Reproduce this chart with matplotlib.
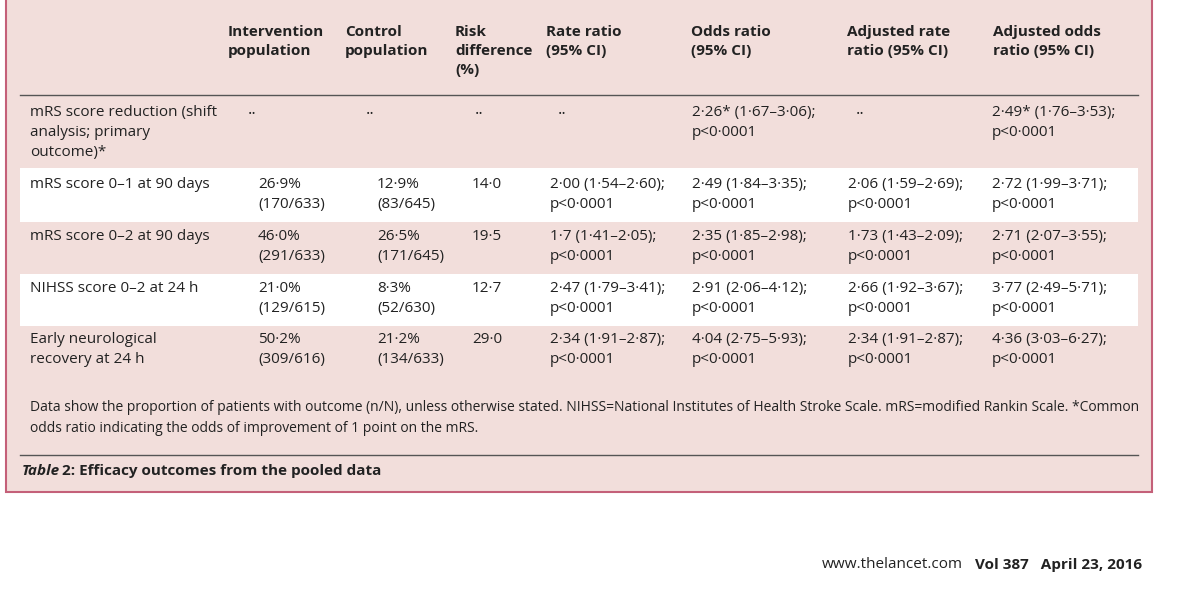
import matplotlib.pyplot as plt
from matplotlib.patches import Rectangle

plt.rcParams['font.family'] = ['Open Sans', 'DejaVu Sans']

headers = ["Intervention\npopulation", "Control\npopulation", "Risk\ndifference\n(%)",
           "Rate ratio\n(95% CI)", "Odds ratio\n(95% CI)", "Adjusted rate\nratio (95% CI)",
           "Adjusted odds\nratio (95% CI)"]
header_x = [228, 345, 455, 546, 691, 847, 993]

outcomes = ["mRS score reduction (shift\nanalysis; primary\noutcome)*",
            "mRS score 0–1 at 90 days", "mRS score 0–2 at 90 days",
            "NIHSS score 0–2 at 24 h", "Early neurological\nrecovery at 24 h"]
intervention = ["··", "26·9%\n(170/633)", "46·0%\n(291/633)", "21·0%\n(129/615)", "50·2%\n(309/616)"]
control = ["··", "12·9%\n(83/645)", "26·5%\n(171/645)", "8·3%\n(52/630)", "21·2%\n(134/633)"]
risk_diff = ["··", "14·0", "19·5", "12·7", "29·0"]
rate_ratio = ["··", "2·00 (1·54–2·60);\np<0·0001", "1·7 (1·41–2·05);\np<0·0001",
              "2·47 (1·79–3·41);\np<0·0001", "2·34 (1·91–2·87);\np<0·0001"]
odds_ratio = ["2·26* (1·67–3·06);\np<0·0001", "2·49 (1·84–3·35);\np<0·0001",
              "2·35 (1·85–2·98);\np<0·0001", "2·91 (2·06–4·12);\np<0·0001",
              "4·04 (2·75–5·93);\np<0·0001"]
adj_rate = ["··", "2·06 (1·59–2·69);\np<0·0001", "1·73 (1·43–2·09);\np<0·0001",
            "2·66 (1·92–3·67);\np<0·0001", "2·34 (1·91–2·87);\np<0·0001"]
adj_odds = ["2·49* (1·76–3·53);\np<0·0001", "2·72 (1·99–3·71);\np<0·0001",
            "2·71 (2·07–3·55);\np<0·0001", "3·77 (2·49–5·71);\np<0·0001",
            "4·36 (3·03–6·27);\np<0·0001"]

row_top = [105, 177, 229, 281, 332]
stripes = [(95, 168, '#f2dedb'), (168, 222, 'white'), (222, 274, '#f2dedb'),
           (274, 326, 'white'), (326, 380, '#f2dedb')]
col_x = [30, 258, 377, 472, 550, 692, 848, 992]
dots_x = {1: 248, 2: 366, 3: 475, 4: 558, 6: 856}

PINK = '#f2dedb'
fig = plt.figure(figsize=(12, 5.95), dpi=100)
ax = fig.add_axes([0, 0, 1, 1])
ax.set_xlim(0, 1200)
ax.set_ylim(595, 0)
ax.axis('off')

ax.add_patch(Rectangle((6, -5), 1146, 497, facecolor=PINK, edgecolor='#c46079', lw=1.5))
for y0, y1, c in stripes:
    ax.add_patch(Rectangle((20, y0), 1118, y1 - y0, facecolor=c, edgecolor='none'))
ax.plot([20, 1138], [95, 95], color='#555555', lw=1)
ax.plot([20, 1138], [455, 455], color='#555555', lw=1)

fs = 11
for h, x in zip(headers, header_x):
    ax.text(x, 25, h, fontsize=fs, fontweight='bold', va='top', ha='left', linespacing=1.45, color='#222222')

cols = [outcomes, intervention, control, risk_diff, rate_ratio, odds_ratio, adj_rate, adj_odds]
for i, y in enumerate(row_top):
    for j, col in enumerate(cols):
        val = col[i]
        if val == "··":
            ax.text(dots_x[j], y + 2, val, fontsize=12, va='top', ha='left', color='#222222')
        else:
            ax.text(col_x[j], y, val, fontsize=fs, va='top', ha='left', linespacing=1.45, color='#222222')

ax.text(30, 400, "Data show the proportion of patients with outcome (n/N), unless otherwise stated. "
        "NIHSS=National Institutes of Health Stroke Scale. mRS=modified Rankin Scale. *Common\n"
        "odds ratio indicating the odds of improvement of 1 point on the mRS.",
        fontsize=10, va='top', ha='left', linespacing=1.55, color='#222222')
ax.text(22, 471, "Table", fontsize=11, fontweight='bold', fontstyle='italic', va='center', ha='left', color='#222222')
ax.text(62, 471, "2: Efficacy outcomes from the pooled data", fontsize=11, fontweight='bold',
        va='center', ha='left', color='#222222')

ax.text(822, 565, "www.thelancet.com", fontsize=11, va='center', ha='left', color='#222222')
ax.text(975, 565, "Vol 387   April 23, 2016", fontsize=11, fontweight='bold', va='center', ha='left', color='#222222')

fig.savefig('out.png', dpi=100, facecolor='white')
